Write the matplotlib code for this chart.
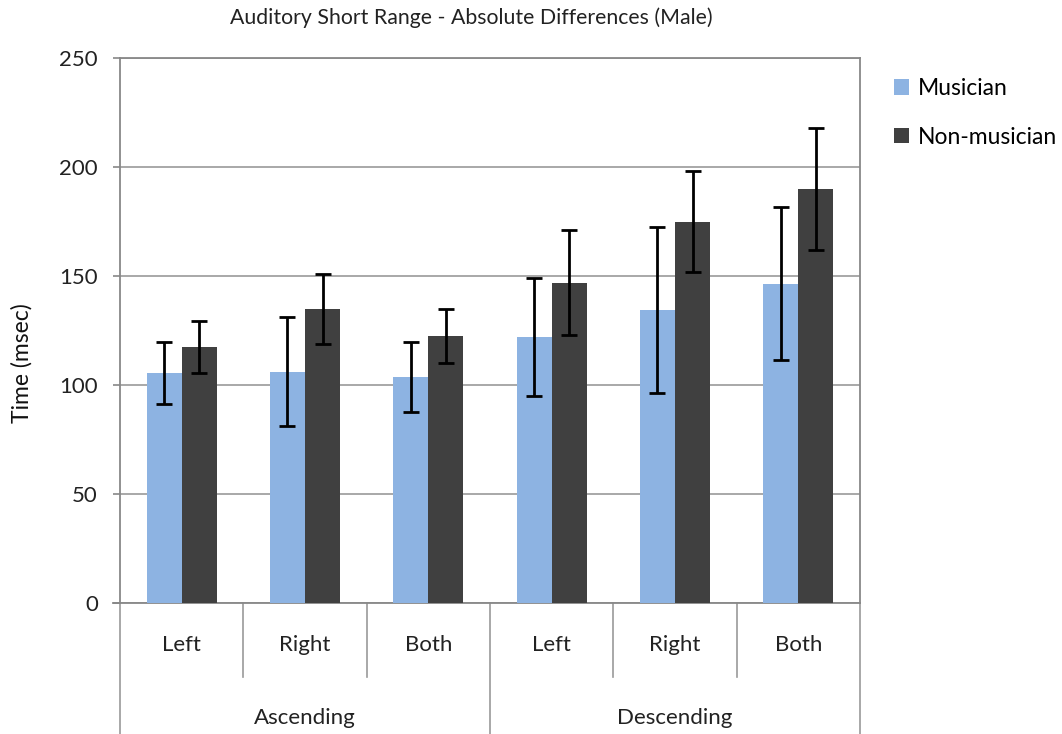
import matplotlib
matplotlib.use('Agg')
import matplotlib.pyplot as plt
import numpy as np

plt.rcParams['font.family'] = ['Lato', 'DejaVu Sans']

# data
groups = ['Ascending', 'Descending']
conditions = ['Left', 'Right', 'Both', 'Left', 'Right', 'Both']
musician = [105.5, 106, 103.5, 122, 134.5, 146.5]
musician_err = [14, 25, 16, 27, 38, 35]
non_musician = [117.5, 135, 122.5, 147, 175, 190]
non_musician_err = [12, 16, 12.5, 24, 23, 28]

mus_color = '#8DB3E2'
non_color = '#404040'
grid_color = '#9a9a9a'

fig = plt.figure(figsize=(10.62, 7.34), dpi=100)
ax = fig.add_axes([120 / 1062, 131 / 734, 740 / 1062, 545 / 734])

x = np.arange(len(conditions))
w = 0.285
err_kw = dict(ecolor='black', elinewidth=2, capsize=5.5, capthick=2)
ax.bar(x - w / 2, musician, w, yerr=musician_err, color=mus_color,
       label='Musician', error_kw=err_kw, zorder=3)
ax.bar(x + w / 2, non_musician, w, yerr=non_musician_err, color=non_color,
       label='Non-musician', error_kw=err_kw, zorder=3)

ax.set_xlim(-0.5, len(conditions) - 0.5)
ax.set_ylim(0, 250)
ax.set_yticks(np.arange(0, 251, 50))
ax.yaxis.grid(True, color=grid_color, linewidth=1.2, zorder=0)
ax.set_axisbelow(True)
for s in ax.spines.values():
    s.set_color('#888888')
    s.set_linewidth(1.3)
ax.tick_params(axis='y', length=5, width=1.2, color='#888888', pad=11,
               labelsize=16, labelcolor='#222222')
ax.set_xticks([])

fig.text(22 / 1062, 1 - 363 / 734, 'Time (msec)', rotation=90,
         ha='center', va='center', fontsize=16.5, color='#111111')

# multi-level category axis
trans = ax.get_xaxis_transform()
for i, c in enumerate(conditions):
    ax.text(i, -0.077, c, transform=trans, ha='center', va='center',
            fontsize=16, color='#222222')
for b in [0.5, 1.5, 3.5, 4.5]:
    ax.plot([b, b], [0, -0.136], transform=trans, color=grid_color,
            linewidth=1.2, clip_on=False)
for b in [-0.5, 2.5, 5.5]:
    ax.plot([b, b], [0, -0.25], transform=trans, color=grid_color,
            linewidth=1.2, clip_on=False)
ax.plot([-0.56, -0.5], [0, 0], transform=trans, color='#888888',
        linewidth=1.3, clip_on=False)
for j, g in enumerate(groups):
    ax.text(1 + 3 * j, -0.211, g, transform=trans, ha='center', va='center',
            fontsize=16, color='#222222')

fig.text(471 / 1062, 1 - 18 / 734,
         'Auditory Short Range - Absolute Differences (Male)',
         ha='center', va='center', fontsize=15.3, color='#222222')

fig.legend(loc='upper left', bbox_to_anchor=(885 / 1062, 1 - 69 / 734),
           frameon=False, fontsize=16.5, handlelength=0.65, handleheight=0.65,
           handletextpad=0.4, labelspacing=1.2, borderaxespad=0)

fig.savefig('out.png', dpi=100)
